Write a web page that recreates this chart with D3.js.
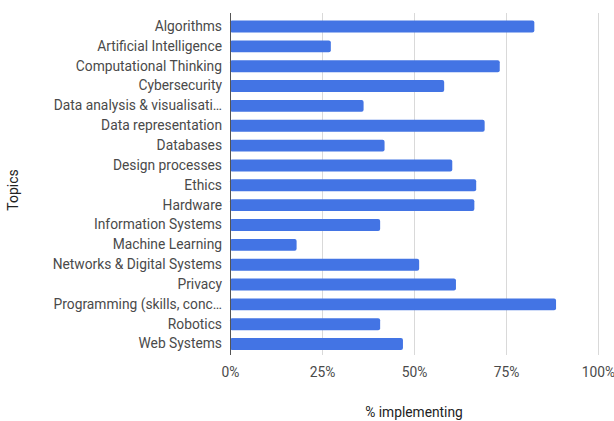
<!DOCTYPE html>
<html>
<head>
<meta charset="utf-8">
<script src="https://cdn.jsdelivr.net/npm/d3@7"></script>
<style>
body{margin:0;background:#fff;}
svg{display:block;}
</style>
</head>
<body>
<div id="chart"></div>
<script>
// topics and share of schools implementing them (%)
var topics=['Algorithms','Artificial Intelligence','Computational Thinking','Cybersecurity',
	'Data analysis & visualisati…','Data representation','Databases','Design processes','Ethics',
	'Hardware','Information Systems','Machine Learning','Networks & Digital Systems','Privacy',
	'Programming (skills, conc…','Robotics','Web Systems'];
var values=[82.7,27.4,73.3,58.2,36.3,69.2,42.0,60.4,66.9,66.4,40.8,18.1,51.4,61.4,88.6,40.8,47.0];
var ticks=[0,25,50,75,100];

var W=614,H=421,
	plotLeft=230,plotRight=598,plotTop=13,plotBottom=355;	// window.top is read-only, so no "top"

var svg=d3.select('#chart').append('svg').attr('width',W).attr('height',H)
	.attr('font-family','Roboto, sans-serif');

var x=d3.scaleLinear().domain([0,100]).range([plotLeft,plotRight]);
var y=d3.scaleBand().domain(topics).range([16.6,354]).paddingInner(0.4).paddingOuter(0.2);

// gridlines
svg.append('g').selectAll('line').data(ticks.slice(1)).enter().append('line')
	.attr('x1',function(d){return x(d)+0.5}).attr('x2',function(d){return x(d)+0.5})
	.attr('y1',plotTop).attr('y2',plotBottom)
	.attr('stroke','#d9d9d9').attr('stroke-width',1);

// bars
svg.append('g').selectAll('rect').data(values).enter().append('rect')
	.attr('x',x(0))
	.attr('y',function(d,i){return y(topics[i])})
	.attr('width',function(d){return x(d)-x(0)})
	.attr('height',y.bandwidth())
	.attr('rx',2).attr('ry',2)
	.attr('fill','#4374e4');

// baseline
svg.append('line').attr('x1',plotLeft+0.5).attr('x2',plotLeft+0.5).attr('y1',plotTop).attr('y2',plotBottom)
	.attr('stroke','#555').attr('stroke-width',1);

// y labels
var yAxis=d3.axisLeft(y).tickSize(0).tickPadding(8);
var gy=svg.append('g').attr('transform','translate('+plotLeft+',0)').call(yAxis);
gy.select('.domain').remove();
gy.selectAll('text').attr('font-size',13.8).attr('fill','#4a4a4a').attr('font-family','Roboto, sans-serif');

// x labels
var xAxis=d3.axisBottom(x).tickValues(ticks).tickSize(0).tickPadding(12)
	.tickFormat(function(d){return d+'%'});
var gx=svg.append('g').attr('transform','translate(0,'+plotBottom+')').call(xAxis);
gx.select('.domain').remove();
gx.selectAll('text').attr('font-size',13.8).attr('fill','#4a4a4a').attr('font-family','Roboto, sans-serif');

// axis titles
svg.append('text').attr('x',x(50)).attr('y',417).attr('text-anchor','middle')
	.attr('font-size',13.8).attr('fill','#222').text('% implementing');
svg.append('text').attr('transform','translate(18,190) rotate(-90)')
	.attr('text-anchor','middle').attr('font-size',14).attr('fill','#222').text('Topics');
</script>
</body>
</html>
